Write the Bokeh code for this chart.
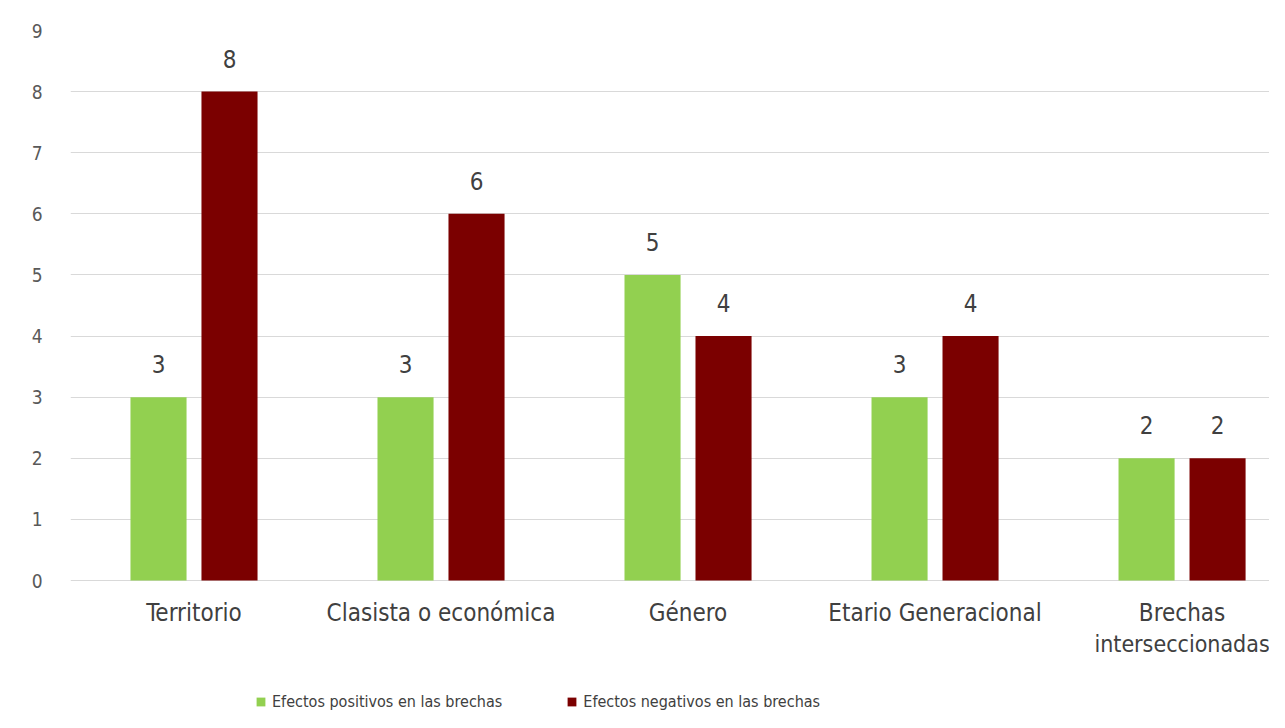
from bokeh.plotting import figure
from bokeh.models import ColumnDataSource, Range1d, FixedTicker, LabelSet, Legend, LegendItem
from bokeh.embed import file_html
from bokeh.resources import INLINE
from bokeh.core.properties import value

categories = ["Territorio", "Clasista o económica", "Género", "Etario Generacional", "Brechas\ninterseccionadas"]
positivos = [3, 3, 5, 3, 2]
negativos = [8, 6, 4, 4, 2]
series_names = ["Efectos positivos en las brechas", "Efectos negativos en las brechas"]
y_ticks = [0, 1, 2, 3, 4, 5, 6, 7, 8, 9]

FONT_NAME = "'DejaVu Sans Condensed', 'Liberation Sans Narrow', sans-serif"
FONT = value(FONT_NAME)
GREEN = "#92d050"
RED = "#7b0000"

centers = [i + 0.5 for i in range(len(categories))]
off = 0.1437
bw = 0.227

src_pos = ColumnDataSource(dict(x=[c - off for c in centers], top=positivos, lab=[str(v) for v in positivos]))
src_neg = ColumnDataSource(dict(x=[c + off for c in centers], top=negativos, lab=[str(v) for v in negativos]))

line1 = [c.split("\n")[0] for c in categories]
line2 = [c.split("\n")[1] if "\n" in c else "" for c in categories]
src_cat1 = ColumnDataSource(dict(x=centers, y=[0] * len(centers), lab=line1))
idx2 = [i for i, t in enumerate(line2) if t]
src_cat2 = ColumnDataSource(dict(x=[centers[i] for i in idx2], y=[0] * len(idx2), lab=[line2[i] for i in idx2]))

p = figure(width=1269, height=712, output_backend="svg", toolbar_location=None,
           x_range=Range1d(0, 4.854), y_range=Range1d(-2.16, 9),
           min_border_left=70, min_border_top=30, min_border_bottom=0, min_border_right=0)
p.outline_line_color = None
p.background_fill_color = "white"
p.border_fill_color = "white"

r1 = p.vbar(x="x", top="top", width=bw, source=src_pos, fill_color=GREEN, line_color=None)
r2 = p.vbar(x="x", top="top", width=bw, source=src_neg, fill_color=RED, line_color=None)

for src in (src_pos, src_neg):
    p.add_layout(LabelSet(x="x", y="top", text="lab", source=src, text_align="center",
                          text_baseline="middle", y_offset=33, text_font=FONT,
                          text_font_size="24px", text_color="#404040"))

# category labels under the baseline
p.add_layout(LabelSet(x="x", y="y", text="lab", source=src_cat1, text_align="center",
                      text_baseline="middle", y_offset=-32, text_font=FONT,
                      text_font_size="24px", text_color="#404040"))
p.add_layout(LabelSet(x="x", y="y", text="lab", source=src_cat2, text_align="center",
                      text_baseline="middle", y_offset=-63, text_font=FONT,
                      text_font_size="23px", text_color="#404040"))

p.xaxis.visible = False
p.xgrid.grid_line_color = None
p.ygrid.grid_line_color = "#d9d9d9"
p.ygrid.grid_line_width = 1
p.yaxis.ticker = FixedTicker(ticks=y_ticks)
p.yaxis.axis_line_color = None
p.yaxis.major_tick_line_color = None
p.yaxis.minor_tick_line_color = None
p.yaxis.major_label_standoff = 22
p.yaxis.major_label_text_font = FONT_NAME
p.yaxis.major_label_text_font_size = "19px"
p.yaxis.major_label_text_color = "#595959"

legend = Legend(items=[LegendItem(label=series_names[0], renderers=[r1]),
                       LegendItem(label=series_names[1], renderers=[r2])],
                orientation="horizontal", location=(185, 1),
                glyph_width=11, glyph_height=11, label_standoff=6, spacing=64,
                padding=0, margin=0, border_line_color=None, background_fill_alpha=0,
                label_text_font=FONT_NAME, label_text_font_size="16px", label_text_color="#404040")
p.add_layout(legend, "center")

open("out.html", "w").write(file_html(p, INLINE))
